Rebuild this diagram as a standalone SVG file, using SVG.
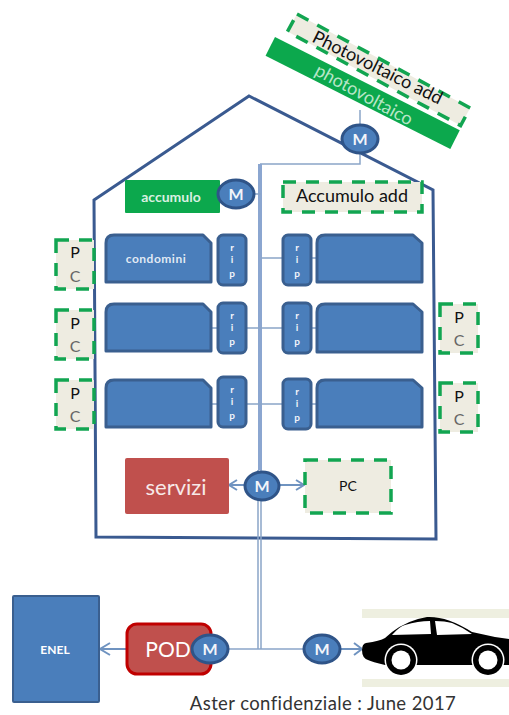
<svg xmlns="http://www.w3.org/2000/svg" width="509" height="715" viewBox="0 0 509 715">
<style>
text{font-family:"Lato","Liberation Sans",sans-serif;text-anchor:middle}
.blue{fill:#4a7ebb;stroke:#3a5f8f;stroke-width:3;stroke-linejoin:round}
.dash{fill:#eeece1;stroke:#12a551;stroke-width:3.500;stroke-dasharray:13 10}
.w{fill:#fff}
.k{fill:#111}
.lnk{fill:none;stroke:#8aa5c8;stroke-width:1.5}
.meter{fill:#4a7ebb;stroke:#2f5488;stroke-width:3}
.mt{fill:#f2f5fa;font-size:16px;font-weight:700}
.rip{fill:#f2f5fa;font-size:10px;font-weight:700}
.arr{fill:none;stroke:#6f93c0;stroke-width:2}
</style>
<rect width="509" height="715" fill="#fff"/>
<g id="house"><path d="M94 200L249 96L433 190L436 539L96 537Z" fill="#fff" stroke="#3a5a90" stroke-width="3"/></g>
<g id="connectors">
<path class="lnk" d="M360 110V164H260"/>
<path d="M260 164V470" fill="none" stroke="#8ba6d0" stroke-width="4"/>
<path class="lnk" d="M258 470V649M261 470V649"/>
<path class="lnk" d="M247 194H261M261 258H282M211 328H282M312 258H317M312 328H317M211 404H282M312 404H317"/>
<path class="lnk" d="M228 649H322"/>
<path class="arr" d="M246 485H229M237 480L229 485L237 490"/>
<path class="arr" d="M278 485H304M296 480L304 485L296 490"/>
<path class="arr" d="M126 649H100M110 643L100 649L110 655"/>
<path class="arr" d="M338 649H362M354 643L362 649L354 655"/>
</g>
<g id="photovoltaico-add"><rect x="0" y="0" width="197" height="20" class="dash" transform="translate(297 14) rotate(28.500)"/><text transform="translate(375 73) rotate(26.500)" font-size="18" class="k">Photovoltaico add</text></g>
<g id="photovoltaico"><rect x="0" y="0" width="207" height="21" fill="#0ca84d" transform="translate(275 37) rotate(26.800)"/><text transform="translate(361 100) rotate(28.500)" font-size="18" fill="#b8e6c8">photovoltaico</text></g>
<g id="meter-top"><ellipse class="meter" cx="360" cy="139" rx="18" ry="14"/><text class="mt" x="360" y="145">M</text></g>
<g id="accumulo"><rect x="125" y="180" width="95" height="33" rx="1" fill="#0ca84d"/><text class="w" x="171" y="202" font-size="14" font-weight="700" fill-opacity=".85">accumulo</text></g>
<g id="meter-accumulo"><ellipse class="meter" cx="236" cy="194" rx="18" ry="14"/><text class="mt" x="236" y="200">M</text></g>
<g id="accumulo-add"><rect x="283" y="182" width="139" height="30" class="dash"/><text class="k" x="352" y="202" font-size="18">Accumulo add</text></g>

<g id="condo-l1"><path class="blue" d="M106 282V243Q106 235 114 235H203L211 243V282Z"/><text class="w" x="156" y="263" font-size="12" font-weight="700" fill-opacity=".85" letter-spacing=".5">condomini</text></g>
<g id="condo-l2"><path class="blue" d="M106 351V312Q106 304 114 304H203L211 312V351Z"/></g>
<g id="condo-l3"><path class="blue" d="M106 427V388Q106 380 114 380H203L211 388V427Z"/></g>
<g id="condo-r1"><path class="blue" d="M317 282V243Q317 235 325 235H413L422 243V282Z"/></g>
<g id="condo-r2"><path class="blue" d="M317 352V312Q317 304 325 304H413L422 312V352Z"/></g>
<g id="condo-r3"><path class="blue" d="M317 427V388Q317 380 325 380H413L422 388V427Z"/></g>

<g id="rip-l1"><rect class="blue" x="218" y="235" width="28" height="50" rx="5"/><text class="rip" x="232" y="251">r</text><text class="rip" x="232" y="263">i</text><text class="rip" x="232" y="277">p</text></g>
<g id="rip-l2"><rect class="blue" x="218" y="303" width="28" height="50" rx="5"/><text class="rip" x="232" y="319">r</text><text class="rip" x="232" y="331">i</text><text class="rip" x="232" y="345">p</text></g>
<g id="rip-l3"><rect class="blue" x="218" y="377" width="28" height="50" rx="5"/><text class="rip" x="232" y="393">r</text><text class="rip" x="232" y="405">i</text><text class="rip" x="232" y="419">p</text></g>
<g id="rip-r1"><rect class="blue" x="283" y="235" width="28" height="50" rx="5"/><text class="rip" x="297" y="251">r</text><text class="rip" x="297" y="263">i</text><text class="rip" x="297" y="277">p</text></g>
<g id="rip-r2"><rect class="blue" x="283" y="303" width="28" height="50" rx="5"/><text class="rip" x="297" y="319">r</text><text class="rip" x="297" y="331">i</text><text class="rip" x="297" y="345">p</text></g>
<g id="rip-r3"><rect class="blue" x="283" y="379" width="28" height="50" rx="5"/><text class="rip" x="297" y="395">r</text><text class="rip" x="297" y="407">i</text><text class="rip" x="297" y="421">p</text></g>

<g id="pc-l1"><rect class="dash" x="56" y="240" width="38" height="49"/><text class="k" x="75" y="258" font-size="16">P</text><text x="75" y="282" font-size="16" fill="#666">C</text></g>
<g id="pc-l2"><rect class="dash" x="56" y="310" width="38" height="49"/><text class="k" x="75" y="329" font-size="16">P</text><text x="75" y="352" font-size="16" fill="#666">C</text></g>
<g id="pc-l3"><rect class="dash" x="56" y="380" width="38" height="49"/><text class="k" x="75" y="399" font-size="16">P</text><text x="75" y="422" font-size="16" fill="#666">C</text></g>
<g id="pc-r1"><rect class="dash" x="440" y="304" width="38" height="49"/><text class="k" x="459" y="323" font-size="16">P</text><text x="459" y="346" font-size="16" fill="#666">C</text></g>
<g id="pc-r2"><rect class="dash" x="440" y="383" width="38" height="49"/><text class="k" x="459" y="402" font-size="16">P</text><text x="459" y="425" font-size="16" fill="#666">C</text></g>

<g id="servizi"><rect x="125" y="458" width="104" height="56" rx="2" fill="#c0504d"/><text x="176" y="495" font-size="22" fill="#f7e9e8">servizi</text></g>
<g id="meter-servizi"><ellipse class="meter" cx="262" cy="486" rx="17" ry="14"/><text class="mt" x="262" y="492">M</text></g>
<g id="pc-main"><rect class="dash" x="305" y="460" width="86" height="53"/><text class="k" x="348" y="491" font-size="14">PC</text></g>

<g id="enel"><rect x="13" y="596" width="86" height="106" rx="1" fill="#4a7ebb" stroke="#3a5f8f" stroke-width="2"/><text class="w" x="55" y="654" font-size="12" font-weight="700">ENEL</text></g>
<g id="pod"><rect x="127" y="624" width="84" height="50" rx="10" fill="#c0504d" stroke="#c00000" stroke-width="3"/><text class="w" x="168" y="657" font-size="21">POD</text></g>
<g id="meter-pod"><ellipse class="meter" cx="210" cy="649" rx="18" ry="14"/><text class="mt" x="210" y="655">M</text></g>
<g id="meter-car"><ellipse class="meter" cx="322" cy="649" rx="18" ry="14"/><text class="mt" x="322" y="655">M</text></g>

<g id="car">
<rect x="362" y="609" width="147" height="78" fill="#eeefe0"/>
<rect x="362" y="618" width="147" height="61" fill="#fff"/>
<path d="M362 650Q362 644 366 643Q380 641 385 638L392 632Q408 620 427 617Q447 616 472 632L495 637L509 639V665H385Q372 662 368 660Q362 658 362 650Z" fill="#000"/>
<path d="M392 635Q400 626 405 625Q418 621 430 621L431 634ZM435 621Q445 621 452 623Q462 627 472 634L437 635Z" fill="#fff"/>
<circle cx="401" cy="660" r="16.500" fill="#fff"/><circle cx="401" cy="660" r="15" fill="#000"/><circle cx="401" cy="660" r="9.500" fill="#fff"/>
<circle cx="488" cy="660" r="16.500" fill="#fff"/><circle cx="488" cy="660" r="15" fill="#000"/><circle cx="488" cy="660" r="9.500" fill="#fff"/>
</g>
<g id="caption"><text x="323" y="710" font-size="18.500" letter-spacing=".4" fill="#333">Aster confidenziale : June 2017</text></g>
</svg>
